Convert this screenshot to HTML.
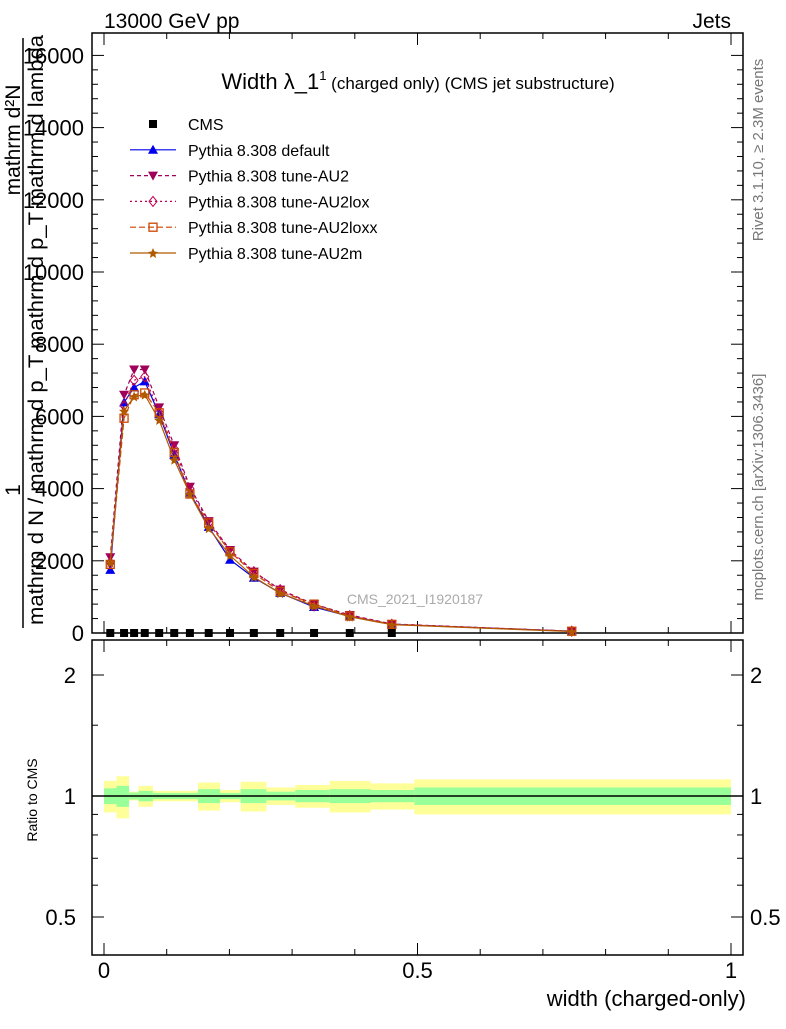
<!DOCTYPE html>
<html><head><meta charset="utf-8"><style>
body{margin:0;background:#fff;width:786px;height:1024px;overflow:hidden}
svg{font-family:"Liberation Sans",sans-serif}
</style></head><body>
<svg id="c" width="786" height="1024" xmlns="http://www.w3.org/2000/svg"></svg>
<script>
const xs=[0.01,0.032,0.048,0.065,0.088,0.112,0.137,0.167,0.201,0.239,0.281,0.335,0.392,0.459,0.746];
const cmsVals=[0,0,0,0,0,0,0,0,0,0,0,0,0,0,0];
const sDefault=[1750,6390,6800,6970,6060,4940,3890,2940,2030,1530,1110,720,460,240,50];
const sAU2=[2100,6600,7300,7300,6250,5200,4050,3100,2300,1700,1200,800,500,250,50];
const sAU2lox=[1950,6300,7000,7100,6100,5100,4000,3050,2250,1700,1200,750,480,240,50];
const sAU2loxx=[1900,5950,6600,6650,6100,5000,3850,3050,2250,1650,1150,800,470,240,50];
const sAU2m=[1950,6150,6550,6600,5900,4800,3850,2900,2150,1550,1100,750,450,230,40];
const binEdges=[0,0.02,0.04,0.055,0.078,0.15,0.185,0.218,0.259,0.305,0.36,0.425,0.495,1.0];
const yellowErr=[0.09,0.12,0.025,0.06,0.03,0.08,0.035,0.085,0.05,0.065,0.09,0.075,0.1];
const greenErr=[0.045,0.06,0.02,0.03,0.018,0.04,0.018,0.04,0.025,0.035,0.04,0.035,0.05];
const yTicks=[0,2000,4000,6000,8000,10000,12000,14000,16000];
const xTickLabels=[0,0.5,1];
const rTicks=[0.5,1,2];

const S=document.getElementById('c');const NS='http://www.w3.org/2000/svg';
function el(t,a,p){const e=document.createElementNS(NS,t);for(const k in a)e.setAttribute(k,a[k]);(p||S).appendChild(e);return e;}
const L=92,R=743,T=33,B=633,RT=640,RB=955;
const X=v=>104+627*v;
const Y=v=>633-v*0.0361;
const RY=v=>796-121*Math.log2(v);

let f1=el('rect',{x:L,y:T,width:R-L,height:B-T,fill:'none',stroke:'#000','stroke-width':1.5});

let f2=el('rect',{x:L,y:RT,width:R-L,height:RB-RT,fill:'none',stroke:'#000','stroke-width':1.5});


for(let v=0;v<=16000;v+=400){const y=Y(v);const maj=v%2000===0;
 el('line',{x1:L,x2:L+(maj?12:6),y1:y,y2:y,stroke:'#000'});el('line',{x1:R,x2:R-(maj?12:6),y1:y,y2:y,stroke:'#000'});}
yTicks.forEach(v=>{const t=el('text',{x:84,y:Y(v)+8,'text-anchor':'end','font-size':22});t.textContent=v;
 });
for(let i=0;i<=10;i++){const x=X(i/10);const maj=i%5===0;
 [[B,-1],[RB,-1],[T,1],[RT,1]].forEach(([y0,d])=>el('line',{x1:x,x2:x,y1:y0,y2:y0+d*(maj?12:6),stroke:'#000'}));}
xTickLabels.forEach(v=>{const t=el('text',{x:X(v),y:978,'text-anchor':'middle','font-size':22});t.textContent=v;
 });
[0.5,0.6,0.7,0.8,0.9,1,1.5,2].forEach(v=>{const y=RY(v);const maj=rTicks.includes(v);
 el('line',{x1:L,x2:L+(maj?12:6),y1:y,y2:y,stroke:'#000'});el('line',{x1:R,x2:R-(maj?12:6),y1:y,y2:y,stroke:'#000'});});
rTicks.forEach(v=>{[[76,'end'],[750,'start']].forEach(([x,a])=>{const t=el('text',{x:x,y:RY(v)+8,'text-anchor':a,'font-size':22});t.textContent=v;
 });});

binEdges.slice(0,-1).forEach((e0,i)=>{const e1=binEdges[i+1];
 const y=el('rect',{x:X(e0),width:X(e1)-X(e0),y:RY(1+yellowErr[i]),height:RY(1-yellowErr[i])-RY(1+yellowErr[i]),fill:'#ffff99'});
 
 const g=el('rect',{x:X(e0),width:X(e1)-X(e0),y:RY(1+greenErr[i]),height:RY(1-greenErr[i])-RY(1+greenErr[i]),fill:'#99ff99'});
 });
el('line',{x1:L,x2:R,y1:RY(1),y2:RY(1),stroke:'#000','stroke-width':1.5});

const series=[
 {d:sDefault,c:'#0000ee',dash:'',m:'tri',name:'series-pythia-default'},
 {d:sAU2,c:'#a0005a',dash:'4,3',m:'tridown',name:'series-pythia-au2'},
 {d:sAU2lox,c:'#c00050',dash:'2,3',m:'diamond',name:'series-pythia-au2lox'},
 {d:sAU2loxx,c:'#cc4400',dash:'6,3',m:'square',name:'series-pythia-au2loxx'},
 {d:sAU2m,c:'#b05a00',dash:'',m:'star',name:'series-pythia-au2m'}];
function marker(m,x,y,c,g){
 if(m==='tri')el('path',{d:`M${x-5},${y+4}L${x+5},${y+4}L${x},${y-5}Z`,fill:c},g);
 else if(m==='tridown')el('path',{d:`M${x-5},${y-4}L${x+5},${y-4}L${x},${y+5}Z`,fill:c},g);
 else if(m==='diamond')el('path',{d:`M${x},${y-5}L${x+4},${y}L${x},${y+5}L${x-4},${y}Z`,fill:'none',stroke:c},g);
 else if(m==='square')el('rect',{x:x-4,y:y-4,width:8,height:8,fill:'none',stroke:c,'stroke-width':1.3},g);
 else if(m==='star')el('path',{d:`M${x},${y-5}L${x+1.5},${y-1.5}L${x+5},${y-1}L${x+2.3},${y+1.3}L${x+3},${y+5}L${x},${y+3}L${x-3},${y+5}L${x-2.3},${y+1.3}L${x-5},${y-1}L${x-1.5},${y-1.5}Z`,fill:c},g);
 else if(m==='sq')el('rect',{x:x-4,y:y-4,width:8,height:8,fill:c},g);
}
series.forEach(s=>{const g=el('g',{});
 el('polyline',{points:xs.map((x,i)=>X(x)+','+Y(s.d[i])).join(' '),fill:'none',stroke:s.c,'stroke-width':1.2,'stroke-dasharray':s.dash},g);
 xs.forEach((x,i)=>marker(s.m,X(x),Y(s.d[i]),s.c,g));});
const cg=el('g',{});
xs.slice(0,14).forEach((x,i)=>marker('sq',X(x),Y(cmsVals[i]),'#000',cg));

const leg=[['CMS','sq','#000',''],['Pythia 8.308 default','tri','#0000ee',''],['Pythia 8.308 tune-AU2','tridown','#a0005a','4,3'],
 ['Pythia 8.308 tune-AU2lox','diamond','#c00050','2,3'],['Pythia 8.308 tune-AU2loxx','square','#cc4400','6,3'],['Pythia 8.308 tune-AU2m','star','#b05a00','']];
leg.forEach((l,i)=>{const y=124+i*25.8;const g=el('g',{});
 if(i>0)el('line',{x1:130,x2:176,y1:y,y2:y,stroke:l[2],'stroke-width':1.2,'stroke-dasharray':l[3]},g);
 marker(l[1],153,y,l[2],g);
 const t=el('text',{x:188,y:y+6,'font-size':16},g);t.textContent=l[0];});

function txt(s,a,name){const t=el('text',a);t.textContent=s;return t;}
txt('13000 GeV pp',{x:104,y:28,'font-size':21},'header-energy');
txt('Jets',{x:731,y:28,'font-size':21,'text-anchor':'end'},'header-process');
const tt=txt('',{x:418,y:89,'text-anchor':'middle','font-size':22},'plot-title');
tt.innerHTML='Width λ_1<tspan font-size="13" dy="-9">1</tspan><tspan font-size="17" dy="9"> (charged only) (CMS jet substructure)</tspan>';
txt('CMS_2021_I1920187',{x:415,y:604,'text-anchor':'middle','font-size':14,fill:'#aaa'},'analysis-watermark');
txt('width (charged-only)',{x:746,y:1006,'text-anchor':'end','font-size':22},'x-axis-title');
txt('Ratio to CMS',{x:0,y:0,'font-size':14,transform:'translate(37,800) rotate(-90)','text-anchor':'middle'},'ratio-axis-title');
txt('Rivet 3.1.10, ≥ 2.3M events',{x:0,y:0,'font-size':15,fill:'#777',transform:'translate(763,150) rotate(-90)','text-anchor':'middle'},'rivet-label');
txt('mcplots.cern.ch [arXiv:1306.3436]',{x:0,y:0,'font-size':15,fill:'#777',transform:'translate(763,487) rotate(-90)','text-anchor':'middle'},'mcplots-label');
txt('mathrm d²N',{x:0,y:0,'font-size':21,transform:'translate(20,140) rotate(-90)','text-anchor':'middle'},'y-axis-title-numerator');
txt('1',{x:0,y:0,'font-size':21,transform:'translate(20,490) rotate(-90)','text-anchor':'middle'},'y-axis-title-one');
el('line',{x1:23,x2:23,y1:38,y2:628,stroke:'#000','stroke-width':1.5});
txt('mathrm d N / mathrm d p_T mathrm d p_T mathrm d lambda',{x:0,y:0,'font-size':21,transform:'translate(43,330) rotate(-90)','text-anchor':'middle',textLength:590,lengthAdjust:'spacingAndGlyphs'},'y-axis-title-denominator');
</script>
</body></html>
